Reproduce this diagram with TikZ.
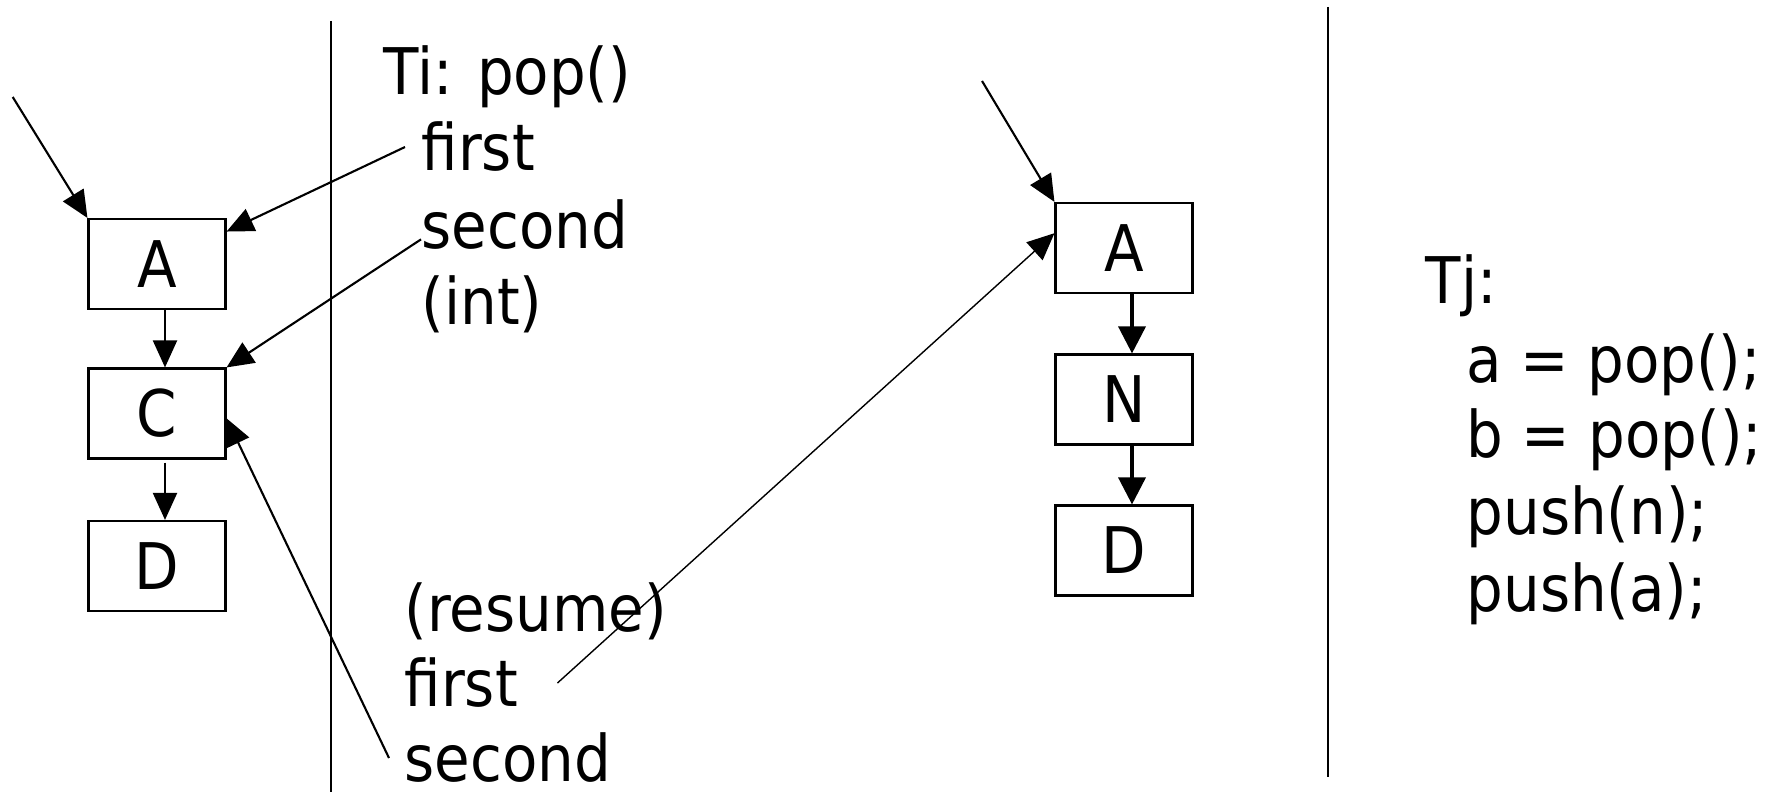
\documentclass[tikz,border=0pt]{standalone}
\usepackage{fontspec}
\setmainfont{DejaVu Sans Condensed}
\usetikzlibrary{arrows.meta}

\begin{document}
\begin{tikzpicture}[
  font=\fontsize{18.3pt}{22pt}\selectfont,
  cell/.style={draw, line width=0.6pt, minimum width=1.37cm, minimum height=0.9cm, inner sep=0pt},
  txt/.style={anchor=base west, inner sep=0pt},
  ptr/.style={-{Triangle[length=2.7mm, width=2.4mm]}, line width=0.6pt},
  link/.style={-{Triangle[length=2.7mm, width=2.7mm]}, line width=1pt}
]
\useasboundingbox (0,0) rectangle (17.65,7.92);

% the two walls between the views
\draw[line width=0.6pt] (3.307,7.71) -- (3.307,0);
\draw[line width=0.6pt] (13.28,7.85) -- (13.28,0.15);

% stack before the pops
\node[cell] (a1) at (1.57,5.28) {A};
\node[cell] (c1) at (1.57,3.785) {C};
\node[cell] (d1) at (1.57,2.26) {D};
\coordinate (top1) at (0.127,6.95);
\draw[ptr] (top1) -- (a1.north west);
\draw[ptr] ([xshift=0.08cm]a1.south) -- ([xshift=0.08cm]c1.north);
\draw[ptr] ([xshift=0.08cm,yshift=-0.03cm]c1.south) -- ([xshift=0.08cm]d1.north);

% thread i
\node[txt] (ti) at (3.83,6.97) {Ti: pop()};
\node[txt] (tifirst) at (4.21,6.21) {first};
\node[txt] (tisecond) at (4.21,5.43) {second};
\node[txt] (tiint) at (4.21,4.67) {(int)};
\node[txt] (resume) at (4.04,1.60) {(resume)};
\node[txt] (rfirst) at (4.04,0.85) {first};
\node[txt] (rsecond) at (4.04,0.10) {second};

% stack after thread j
\node[cell] (a2) at (11.24,5.44) {A};
\node[cell] (n2) at (11.24,3.925) {N};
\node[cell] (d2) at (11.24,2.415) {D};
\coordinate (top2) at (9.82,7.11);
\draw[ptr] (top2) -- (a2.north west);
\draw[link] ([xshift=0.08cm]a2.south) -- ([xshift=0.08cm]n2.north);
\draw[link] ([xshift=0.08cm]n2.south) -- ([xshift=0.08cm]d2.north);

% thread j
\node[txt] (tj) at (14.25,4.88) {Tj:};
\node[txt] (ta) at (14.66,4.09) {a = pop();};
\node[txt] (tb) at (14.66,3.34) {b = pop();};
\node[txt] (tn) at (14.66,2.57) {push(n);};
\node[txt] (tpa) at (14.66,1.80) {push(a);};

% what Ti holds
\draw[ptr] ([xshift=-0.16cm]tifirst.west) -- (a1.25);
\draw[ptr] (tisecond.mid west) -- (c1.north east);
\draw[ptr] ([xshift=-0.15cm]rsecond.west) -- (c1.-4);
\draw[ptr, line width=0.4pt] ([xshift=0.39cm]rfirst.east) -- (a2.168);
\end{tikzpicture}
\end{document}
